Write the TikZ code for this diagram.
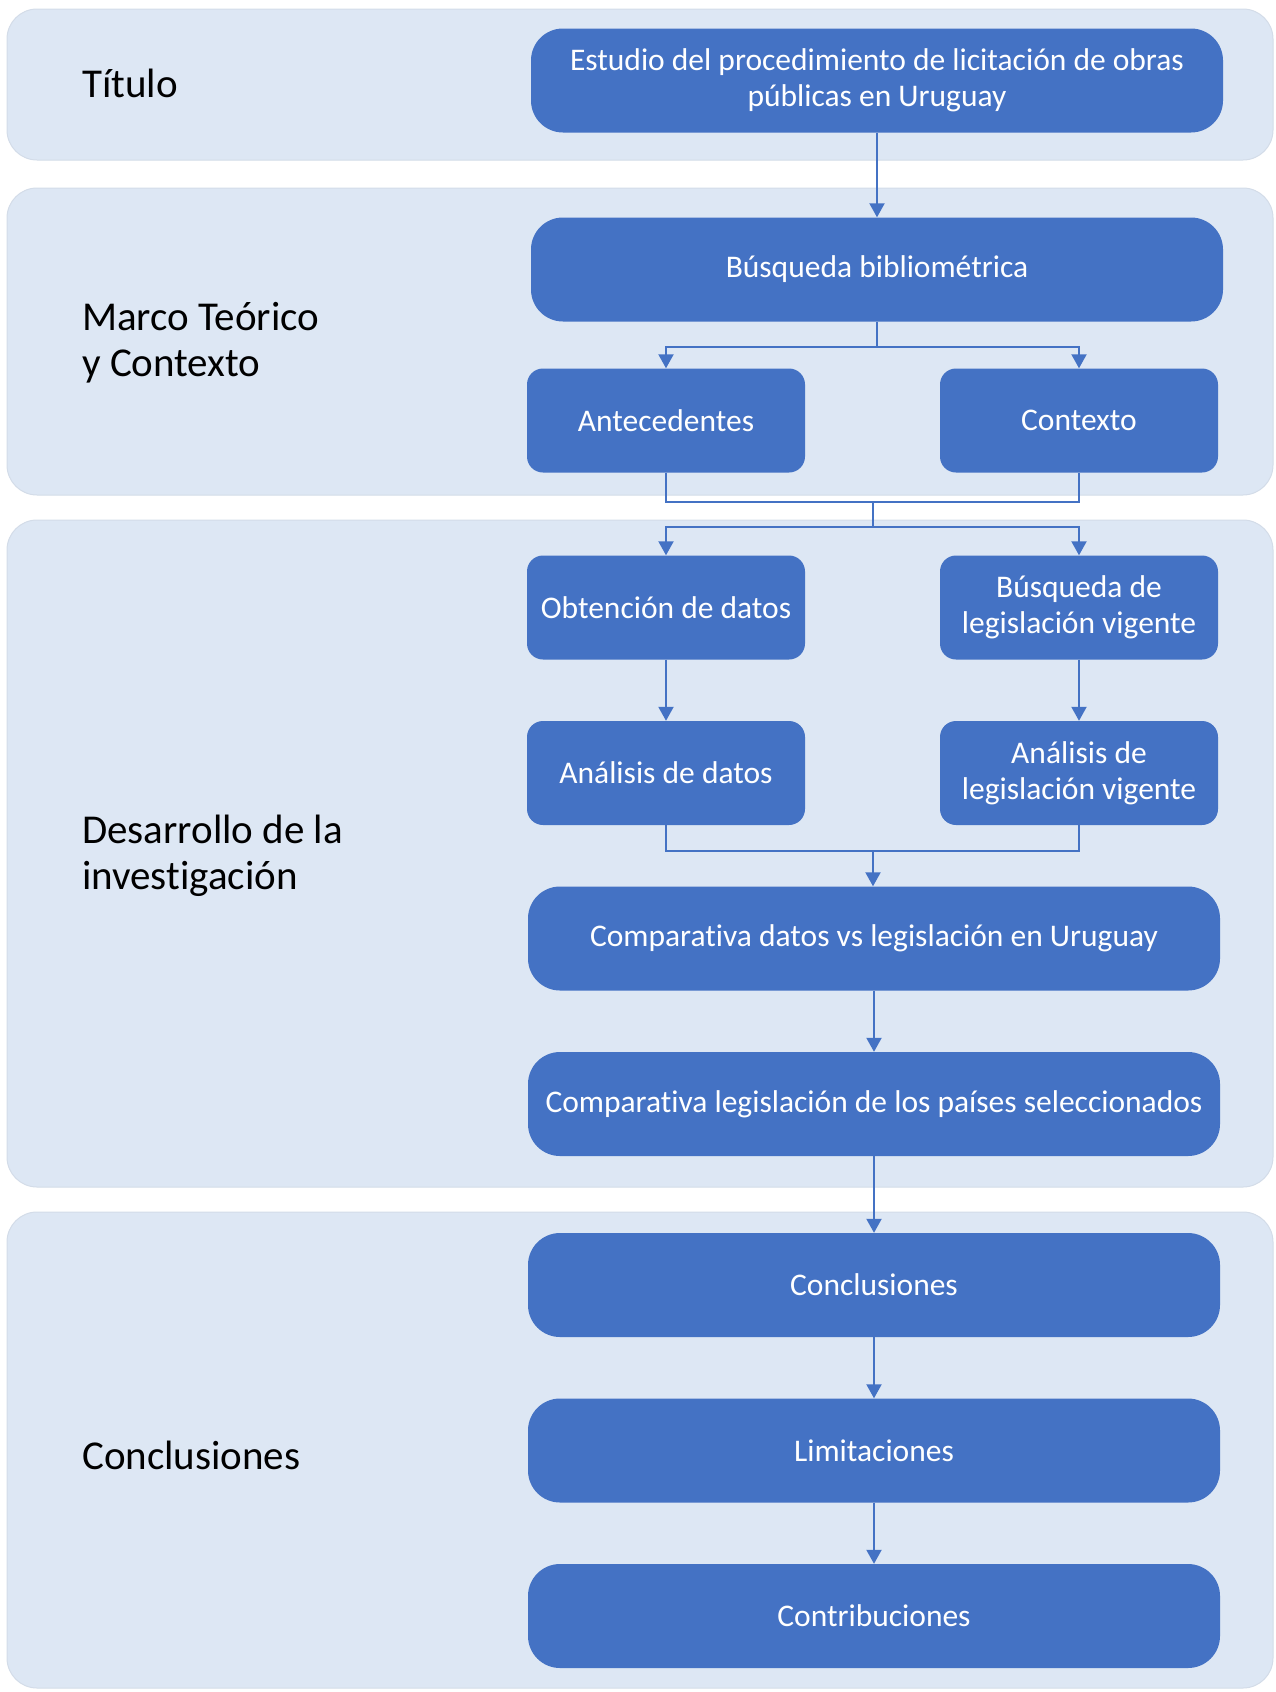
\documentclass[tikz,border=0pt]{standalone}
\usepackage{fontspec}
\setmainfont{Carlito}[Ligatures=NoCommon]
\usetikzlibrary{arrows.meta}
\definecolor{boxblue}{HTML}{4472C4}
\definecolor{bandblue}{HTML}{DDE7F4}
\definecolor{bandedge}{HTML}{D3DCE8}

\begin{document}
\begin{tikzpicture}[x=1pt,y=-1pt,
  band/.style={fill=bandblue,draw=bandedge,line width=1pt,rounded corners=30pt},
  stage/.style={fill=boxblue,text=white,align=center,inner sep=0pt,
    minimum height=104pt,rounded corners=32pt,font=\fontsize{31.5}{36}\selectfont},
  wide/.style={stage,minimum width=692pt},
  half/.style={stage,minimum width=278pt,rounded corners=16pt},
  label/.style={anchor=west,align=left,inner sep=0pt,font=\fontsize{41}{46}\selectfont},
  line/.style={draw=boxblue,line width=2pt},
  arrow/.style={line,-{Triangle[width=15pt,length=14pt]}}]
\useasboundingbox (0,0) rectangle (1275,1692);
% bands
\path[band] (7,9) rectangle (1273,160);
\path[band] (7,188) rectangle (1273,495);
\path[band] (7,520) rectangle (1273,1187);
\path[band] (7,1212) rectangle (1273,1688);
% left labels
\node[label] (ltitulo) at (82,83) {Título};
\node[label] (lmarco) at (82,343) {Marco Teórico\\y Contexto};
\node[label] (ldesarrollo) at (82,856) {Desarrollo de la\\investigación};
\node[label] (lconcl) at (82,1455) {Conclusiones};
% boxes
\node[wide] (titulo) at (877,80.5) {Estudio del procedimiento de licitación de obras\\públicas en Uruguay};
\node[wide] (busq) at (877,269.5) {Búsqueda bibliométrica};
\node[half] (antec) at (666,420.5) {Antecedentes};
\node[half] (contx) at (1079,420.5) {Contexto};
\node[half] (obten) at (666,607.5) {Obtención de datos};
\node[half] (busleg) at (1079,607.5) {Búsqueda de\\legislación vigente};
\node[half] (anadat) at (666,773) {Análisis de datos};
\node[half] (analeg) at (1079,773) {Análisis de\\legislación vigente};
\node[wide] (comp1) at (874,938.5) {Comparativa datos vs legislación en Uruguay};
\node[wide] (comp2) at (874,1104) {Comparativa legislación de los países seleccionados};
\node[wide] (concl) at (874,1285) {Conclusiones};
\node[wide] (limit) at (874,1450.5) {Limitaciones};
\node[wide] (contrib) at (874,1616) {Contribuciones};
% connectors
\coordinate (fork1) at (877,347);
\coordinate (join1) at (873,502);
\coordinate (fork2) at (873,527);
\coordinate (join2) at (873,851);
\draw[arrow] (titulo) -- (busq);
\draw[line] (busq.south) -- (fork1);
\draw[arrow] (fork1) -| (antec.north);
\draw[arrow] (fork1) -| (contx.north);
\draw[line] (antec.south) |- (join1) -| (contx.south);
\draw[line] (join1) -- (fork2);
\draw[arrow] (fork2) -| (obten.north);
\draw[arrow] (fork2) -| (busleg.north);
\draw[arrow] (obten) -- (anadat);
\draw[arrow] (busleg) -- (analeg);
\draw[line] (anadat.south) |- (join2) -| (analeg.south);
\draw[arrow] (join2) -- (join2 |- comp1.north);
\draw[arrow] (comp1) -- (comp2);
\draw[arrow] (comp2) -- (concl);
\draw[arrow] (concl) -- (limit);
\draw[arrow] (limit) -- (contrib);
\end{tikzpicture}
\end{document}
